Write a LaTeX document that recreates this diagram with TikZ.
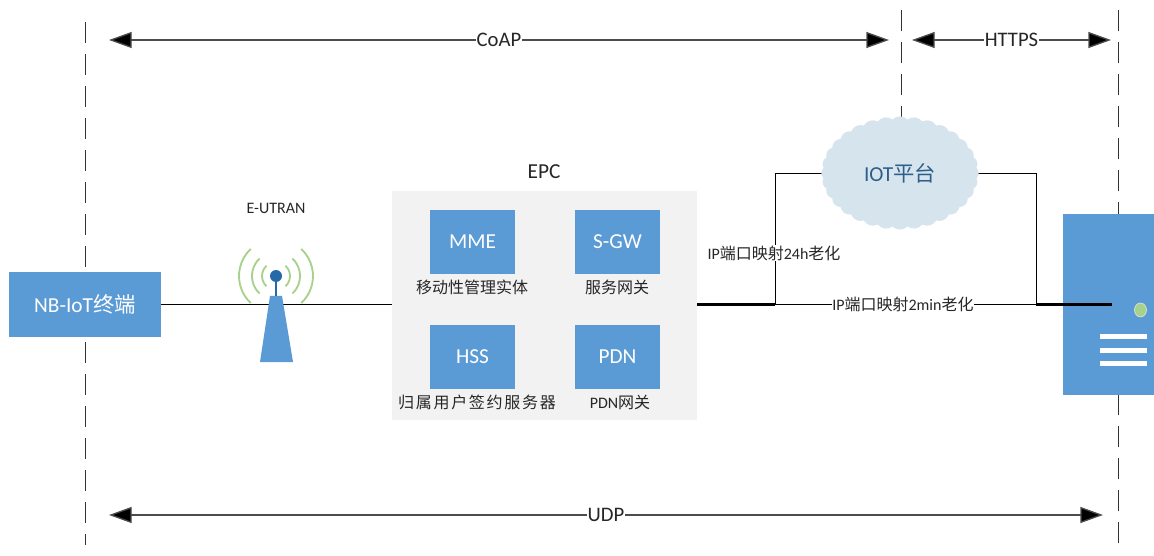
\documentclass[tikz,border=0pt]{standalone}
\usepackage{fontspec}
\setmainfont{Carlito}
\newfontfamily\cjkf{Noto Sans CJK SC}
\newfontfamily\cjkwide[LetterSpace=10.6]{Noto Sans CJK SC}
\usetikzlibrary{arrows.meta,shapes.symbols,shapes.geometric}
\definecolor{boxblue}{HTML}{5B9BD5}
\definecolor{epcgrey}{HTML}{F2F2F2}
\definecolor{cloudblue}{HTML}{D5E4ED}
\definecolor{cloudtext}{HTML}{2E5F8A}
\definecolor{arcgreen}{HTML}{A9D18E}
\definecolor{towerdark}{HTML}{2569A8}
\tikzset{
  x=0.75pt,y=-0.75pt,
  guide/.style={line width=0.7pt,black!80,dash pattern=on 15.75pt off 8.25pt},
  span/.style={line width=1pt,black!70,{Triangle[length=17pt,width=12pt,fill=black]}-{Triangle[length=17pt,width=12pt,fill=black]}},
  spanlabel/.style={fill=white,inner sep=0.5pt,font=\fontsize{15.5}{17}\selectfont,text=black!85},
  module/.style={fill=boxblue,text=white,minimum width=63.75pt,minimum height=48pt,inner sep=0pt,font=\fontsize{16}{18}\selectfont},
  caption/.style={inner sep=0pt,font=\fontsize{12}{14}\selectfont,text=black!85},
  wire/.style={line width=0.65pt,black},
  wireheavy/.style={line width=1.6pt,black},
  linklabel/.style={fill=white,inner sep=0.5pt,font=\fontsize{12}{14}\selectfont,text=black!85},
  radio/.style={arcgreen,line width=1.4pt},
}
\begin{document}
\begin{tikzpicture}
\useasboundingbox (0,0) rectangle (1154,556);
% guides
\coordinate (g1a) at (85,22); \coordinate (g1b) at (85,545);
\coordinate (g2a) at (901,10); \coordinate (g2b) at (901,119);
\coordinate (g3a) at (1118,10); \coordinate (g3b) at (1118,545);
\draw[guide] (g1a) -- (g1b);
\draw[guide] (g2a) -- (g2b);
\draw[guide] (g3a) -- (g3b);
% spans
\coordinate (c1) at (109,40); \coordinate (c2) at (889,40);
\coordinate (h1) at (912,40); \coordinate (h2) at (1111,40);
\coordinate (u1) at (109,515); \coordinate (u2) at (1103,515);
\draw[span] (c1) -- node[spanlabel,pos=0.5] {CoAP} (c2);
\draw[span] (h1) -- node[spanlabel,pos=0.5] {HTTPS} (h2);
\draw[span] (u1) -- node[spanlabel,pos=0.5] {UDP} (u2);
% nodes
\node[fill=boxblue,text=white,minimum width=114pt,minimum height=48.75pt,inner sep=0pt,font=\fontsize{16}{18}\selectfont] (term) at (85,304.5) {NB-IoT{\cjkf 终端}};
\node[fill=epcgrey,minimum width=228.75pt,minimum height=171.75pt,inner sep=0pt] (epc) at (544.5,305.5) {};
\node[inner sep=0pt,font=\fontsize{16}{18}\selectfont,text=black!85] (epct) at (544,172) {EPC};
\node[inner sep=0pt,font=\fontsize{12}{14}\selectfont,text=black!85] (utran) at (276,208) {E-UTRAN};
\node[module] (mme) at (472.5,242) {MME};
\node[module] (sgw) at (617.5,242) {S-GW};
\node[module] (hss) at (472.5,357) {HSS};
\node[module] (pdn) at (617.5,357) {PDN};
\node[caption] (mmet) at (472,287) {\cjkf 移动性管理实体};
\node[caption] (sgwt) at (617,287) {\cjkf 服务网关};
\node[caption] (hsst) at (477,402) {\cjkwide 归属用户签约服务器};
\node[caption] (pdnt) at (620,402) {PDN{\cjkf 网关}};
% wires
\coordinate (j0) at (697,304.5);
\coordinate (j1) at (775,304.5);
\coordinate (j2) at (1036,304.5);
\coordinate (j3) at (1112,304.5);
\coordinate (k1) at (775,173);
\coordinate (k2) at (1036,173);
\coordinate (k3) at (825,173);
\coordinate (k4) at (975,173);
\draw[wire] (term.east) -- (term.east -| epc.west);
\draw[wire] (k3) -- (k1) -- (j1);
\draw[wire] (k4) -- (k2) -- (j2);
% tower
\coordinate (ball) at (276,276);
\foreach \r in {14,24,37}{
  \draw[radio] (ball) ++(47:\r) arc (47:-47:\r);
  \draw[radio] (ball) ++(133:\r) arc (133:227:\r);
}
\fill[boxblue] (270,296) -- (282,296) -- (293,362) -- (260,362) -- cycle;
\draw[towerdark,line width=1.8pt] (ball) -- (276,296);
\fill[towerdark] (ball) circle (6);
% cloud
\node[cloud,cloud puffs=32,cloud puff arc=90,aspect=1.4,fill=cloudblue,draw=none,minimum width=118pt,minimum height=85pt,inner sep=0pt,text=cloudtext,font=\fontsize{16}{18}\selectfont] (iot) at (900,173) {IOT{\cjkf 平台}};
% server
\node[fill=boxblue,minimum width=68.25pt,minimum height=135.75pt,inner sep=0pt] (srv) at (1108.5,304.5) {};
\fill[arcgreen,draw=white!70!arcgreen,line width=0.4pt] (1140.5,310) ellipse (6 and 7);
\foreach \y in {336,350,363}{\fill[white] (1100,\y-2.5) rectangle (1147,\y+2.5);}
% main link
\draw[wire] (j1) -- node[linklabel,pos=0.49] {IP{\cjkf 端口映射}2min{\cjkf 老化}} (j2);
\draw[wireheavy] (j0) -- (j1);
\draw[wireheavy] (j2) -- (j3);
\node[linklabel] (lbl24) at (774,253) {IP{\cjkf 端口映射}24h{\cjkf 老化}};
\end{tikzpicture}
\end{document}
